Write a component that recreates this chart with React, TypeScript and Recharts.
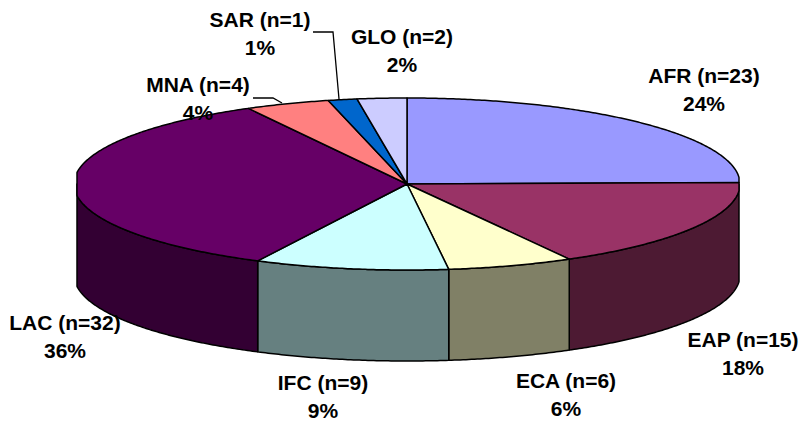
import { Pie, PieChart } from "recharts";

const regions = ["AFR", "EAP", "ECA", "IFC", "LAC", "MNA", "SAR", "GLO"];
const counts = [23, 15, 6, 9, 32, 4, 1, 2];
const percents = [24, 18, 6, 9, 36, 4, 1, 2];
// slice sizes, they differ a bit from the printed percents
const shares = [24.7, 17.2, 6.1, 9.4, 34.7, 4.1, 1.4, 2.4];
const topColors = ["#9999ff", "#993366", "#ffffcc", "#ccffff", "#660066", "#ff8080", "#0066cc", "#ccccff"];
const wallColors = ["#4d4d80", "#4d1a33", "#808066", "#668080", "#330033", "#804040", "#003366", "#666680"];

const tableData = regions.map((name, i) => ({
  name,
  n: counts[i],
  percent: percents[i],
  share: shares[i],
  fill: topColors[i],
  wall: wallColors[i],
}));

const WIDTH = 801;
const HEIGHT = 421;
const CX = 407;
const CY = 184;
const RX = 333;
const RY = 86;
const DEPTH = 91;
const MIN_X = 77;
const MAX_X = 739;
const LINE_GAP = 27.6;

// center x / first baseline of each label, placed by hand like the original
const labelPos: Record<string, { x: number; y: number }> = {
  AFR: { x: 704, y: 83 },
  EAP: { x: 743, y: 347 },
  ECA: { x: 566, y: 388 },
  IFC: { x: 323, y: 390 },
  LAC: { x: 65, y: 330 },
  MNA: { x: 198, y: 92 },
  SAR: { x: 260, y: 27 },
  GLO: { x: 402, y: 44 },
};

const leaders: Record<string, string> = {
  SAR: "313,32 333,32 339,99",
  MNA: "253,98 273,98 282,103",
};

// recharts hands over circular angles, they get squashed onto the ellipse here.
// x is clamped because the original outline is cut off flat at both extremes.
function onEllipse(angle: number, dy = 0) {
  const rad = (angle * Math.PI) / 180;
  const x = Math.min(MAX_X, Math.max(MIN_X, CX + RX * Math.cos(rad)));
  return `${x.toFixed(2)},${(CY + dy - RY * Math.sin(rad)).toFixed(2)}`;
}

function arcPoints(from: number, to: number, dy = 0) {
  const steps = Math.max(2, Math.ceil(Math.abs(from - to) * 2));
  const pts: string[] = [];
  for (let i = 0; i <= steps; i++) {
    pts.push(onEllipse(from + ((to - from) * i) / steps, dy));
  }
  return pts;
}

function EllipseSector(props: any) {
  const { startAngle, endAngle, fill, payload } = props;
  const top = `M${CX},${CY} L${arcPoints(startAngle, endAngle).join(" L")} Z`;

  // only the front half of the cylinder shows a wall
  const wallStart = Math.min(startAngle, 0);
  const wallEnd = Math.max(endAngle, -180);
  const wall =
    wallStart > wallEnd
      ? `M${arcPoints(wallStart, wallEnd).join(" L")} L${arcPoints(wallEnd, wallStart, DEPTH).join(" L")} Z`
      : null;

  return (
    <g>
      {wall && <path d={wall} fill={payload.wall} stroke="#000" strokeWidth={1.5} strokeLinejoin="round" />}
      <path d={top} fill={fill} stroke="#000" strokeWidth={1.5} strokeLinejoin="round" />
    </g>
  );
}

function SliceLabel(props: any) {
  const { name, percent, n } = props.payload;
  const pos = labelPos[name];
  return (
    <g>
      {leaders[name] && <polyline points={leaders[name]} fill="none" stroke="#000" strokeWidth={1.3} />}
      <text
        x={pos.x}
        y={pos.y}
        textAnchor="middle"
        fontFamily="'Liberation Sans', Arial, sans-serif"
        fontWeight={700}
        fontSize={21}
        fill="#000"
      >
        <tspan x={pos.x}>{`${name} (n=${n})`}</tspan>
        <tspan x={pos.x} dy={LINE_GAP}>{`${percent}%`}</tspan>
      </text>
    </g>
  );
}

export default function App() {
  return (
    <div style={{ position: "absolute", left: 0, top: 0, width: WIDTH, height: HEIGHT, background: "#fff" }}>
      <PieChart width={WIDTH} height={HEIGHT} margin={{ top: 0, right: 0, bottom: 0, left: 0 }}>
        <Pie
          data={tableData}
          dataKey="share"
          nameKey="name"
          cx={CX}
          cy={CY}
          innerRadius={0}
          outerRadius={RX}
          startAngle={90}
          endAngle={-270}
          paddingAngle={0}
          shape={EllipseSector}
          label={SliceLabel}
          labelLine={false}
          isAnimationActive={false}
        />
      </PieChart>
    </div>
  );
}
